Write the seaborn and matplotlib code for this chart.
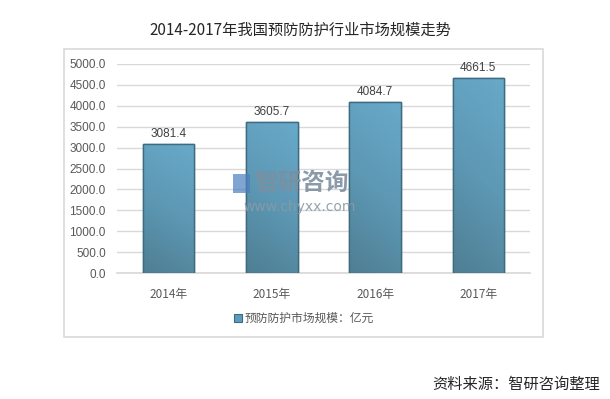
import numpy as np
import pandas as pd
import matplotlib
matplotlib.use("Agg")
import matplotlib.pyplot as plt
import seaborn as sns
from matplotlib.patches import Rectangle
from matplotlib.colors import LinearSegmentedColormap

years = ["2014年", "2015年", "2016年", "2017年"]
values = [3081.4, 3605.7, 4084.7, 4661.5]
yticks = [0, 500, 1000, 1500, 2000, 2500, 3000, 3500, 4000, 4500, 5000]
title = "2014-2017年我国预防防护行业市场规模走势"
legend_label = "预防防护市场规模：亿元"
source = "资料来源：智研咨询整理"

sns.set_theme(style="white")
plt.rcParams['font.family'] = ['Noto Sans CJK SC', 'DejaVu Sans']

df = pd.DataFrame({"year": years, "value": values})

fig = plt.figure(figsize=(6.1, 3.99), dpi=100)
ax = fig.add_axes([117/610, 1-273/399, 413/610, 209/399])

sns.barplot(data=df, x="year", y="value", color="#5c9dbb", width=0.5,
            edgecolor="#3f6b80", linewidth=1.0, saturation=1, ax=ax, zorder=3)

# gradient overlay on bars
cmap = LinearSegmentedColormap.from_list("g", ["#4f7f93", "#5d98b4", "#68a9c9"])
for p in ax.patches:
    x0, y0 = p.get_x(), p.get_y()
    w, h = p.get_width(), p.get_height()
    g = np.outer(np.linspace(0, 1, 64), np.ones(16)) * 0.8 + np.outer(np.ones(64), np.linspace(0, 1, 16)) * 0.2
    im = ax.imshow(g, extent=[x0, x0 + w, y0, y0 + h], origin="lower", cmap=cmap,
                   aspect="auto", zorder=3.5)
    im.set_clip_path(p)
    ax.add_patch(Rectangle((x0, y0), w, h, fill=False, edgecolor="#3f6b80", lw=1.0, zorder=4))
    ax.text(x0 + w / 2, y0 + h + 110, f"{h:.1f}", ha="center", va="bottom",
            fontsize=8.5, color="#404040", family=['Liberation Sans', 'DejaVu Sans'], zorder=5)

ax.set_xlim(-0.5, 3.5)
ax.set_ylim(0, 5000)
ax.set_yticks(yticks)
ax.set_yticklabels([f"{v:.1f}" for v in yticks], family=['Liberation Sans', 'DejaVu Sans'])
ax.yaxis.grid(True, color="#d9d9d9", linewidth=1.0, zorder=0)
ax.tick_params(axis="y", length=0, labelsize=8.5, labelcolor="#595959", pad=8)
ax.tick_params(axis="x", length=0, labelsize=8.5, labelcolor="#595959", pad=11)
for lab in ax.get_xticklabels():
    lab.set_fontfamily(['Noto Sans CJK SC', 'DejaVu Sans'])
ax.set_xlabel("")
ax.set_ylabel("")
for s in ax.spines.values():
    s.set_visible(False)
ax.spines["bottom"].set_visible(True)
ax.spines["bottom"].set_color("#d9d9d9")
ax.spines["bottom"].set_zorder(2)

# chart frame
fig.add_artist(Rectangle((64/610, 1-337/399), (543-64)/610, (337-49)/399,
                         transform=fig.transFigure, fill=False, edgecolor="#d9d9d9", lw=1.2))

fig.text(300/610, 1-30/399, title, ha="center", va="center", fontsize=11, color="#262626")

# legend
fig.add_artist(Rectangle((234/610, 1-322/399), 8/610, 8/399, transform=fig.transFigure,
                         facecolor="#5c9dbb", edgecolor="#3f6b80", lw=0.8))
fig.text(245/610, 1-318/399, legend_label, ha="left", va="center", fontsize=8.5, color="#595959")

# watermark
fig.add_artist(Rectangle((233/610, 1-193/399), 17/610, 19/399, transform=fig.transFigure,
                         facecolor="#4a7fc0", edgecolor="none", alpha=0.7, zorder=6))
fig.text(302/610, 1-183/399, "智研咨询", ha="center", va="center", fontsize=17,
         color="#7d8fa0", alpha=0.9, fontweight="bold", zorder=6)
fig.text(300/610, 1-207/399, "www.chyxx.com", ha="center", va="center", fontsize=10,
         color="#8a9aa8", alpha=0.9, family=['DejaVu Sans'], zorder=6)

fig.text(600/610, 1-384/399, source, ha="right", va="center", fontsize=11, color="#262626")

fig.savefig("out.png", dpi=100)
